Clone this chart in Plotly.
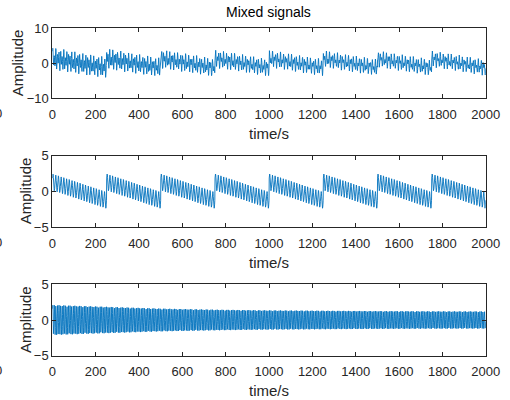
import numpy as np
import plotly.graph_objects as go

# ---- data ----
n_samples = 2000
saw_period = 250
saw_seg_start = [1.3, 1.3, 1.3, 1.3, 1.3, 1.3, 1.3, 1.3]       # sawtooth level at start of each period
saw_seg_end = [-1.25, -1.25, -1.25, -1.25, -1.25, -1.25, -1.25, -1.25]  # level at end of each period
saw_ripple_amp = 1.15            # ripple riding on the sawtooth
saw_ripple_period = 12.5
tone_env_t = [0, 250, 500, 750, 1000, 1250, 1500, 1750, 2000]
tone_env_amp = [2.1, 1.85, 1.6, 1.45, 1.35, 1.3, 1.25, 1.22, 1.2]
tone_period = 7.3

x_ticks = [0, 200, 400, 600, 800, 1000, 1200, 1400, 1600, 1800, 2000]
y_ticks_top = [-10, 0, 10]
y_ticks_low = [-5, 0, 5]
panel_titles_y = ["Amplitude", "Amplitude", "Amplitude"]

# ---- build signals ----
t = np.arange(1, n_samples + 1)
seg = np.minimum((t - 1) // saw_period, len(saw_seg_start) - 1)
frac = ((t - 1) % saw_period) / (saw_period - 1)
saw = np.array(saw_seg_start)[seg] + frac * (np.array(saw_seg_end)[seg] - np.array(saw_seg_start)[seg])
sig2 = saw + saw_ripple_amp * np.sin(2 * np.pi * t / saw_ripple_period)
env = np.interp(t, tone_env_t, tone_env_amp)
sig3 = env * np.sin(2 * np.pi * t / tone_period)
sig1 = sig2 + sig3

W, H = 510, 400
BLUE = "#0072BD"
AX = "#262626"
FONT = "Liberation Sans, Arial, sans-serif"

xl, xr = 52.3 / W, 485.7 / W
panels = [  # (top px, bottom px)
    (28.3, 98.3),
    (155.7, 227.0),
    (284.3, 355.7),
]

fig = go.Figure()
sigs = [sig1, sig2, sig3]
for i, s in enumerate(sigs):
    suffix = "" if i == 0 else str(i + 1)
    fig.add_trace(go.Scatter(x=t, y=s, mode="lines",
                             line=dict(color=BLUE, width=0.9),
                             xaxis="x" + suffix, yaxis="y" + suffix,
                             showlegend=False, hoverinfo="skip"))

layout = dict(width=W, height=H, margin=dict(l=0, r=0, t=0, b=0, autoexpand=False),
              paper_bgcolor="white", plot_bgcolor="white",
              font=dict(family=FONT, size=13, color=AX), showlegend=False)
annotations = []
for i, (top, bot) in enumerate(panels):
    suffix = "" if i == 0 else str(i + 1)
    yd = [1 - bot / H, 1 - top / H]
    layout["xaxis" + suffix] = dict(domain=[xl, xr], range=[0, 2000], tickvals=x_ticks,
                                    ticks="inside", ticklen=4, tickcolor=AX, showline=True,
                                    linecolor=AX, linewidth=1, mirror="ticks", showgrid=False,
                                    zeroline=False, anchor="y" + suffix, automargin=False,
                                    ticklabelstandoff=4,
                                    tickfont=dict(size=13, color=AX))
    yt = y_ticks_top if i == 0 else y_ticks_low
    layout["yaxis" + suffix] = dict(domain=yd, range=[yt[0], yt[-1]], tickvals=yt,
                                    ticks="inside", ticklen=4, tickcolor=AX, showline=True,
                                    linecolor=AX, linewidth=1, mirror="ticks", showgrid=False,
                                    zeroline=False, anchor="x" + suffix, automargin=False,
                                    tickfont=dict(size=13, color=AX))
    # x-axis title
    annotations.append(dict(text="time/s", x=(xl + xr) / 2, y=1 - (bot + 35) / H,
                            xref="paper", yref="paper", showarrow=False,
                            font=dict(size=15, color=AX), xanchor="center", yanchor="middle"))
    # y-axis title
    ylx = 17 if i == 0 else 25
    annotations.append(dict(text=panel_titles_y[i], x=ylx / W, y=(yd[0] + yd[1]) / 2,
                            xref="paper", yref="paper", showarrow=False, textangle=-90,
                            font=dict(size=15, color=AX), xanchor="center", yanchor="middle"))
    # stray clipped "0" at left edge
    annotations.append(dict(text="0", x=-2 / W, y=1 - (bot + 15) / H,
                            xref="paper", yref="paper", showarrow=False,
                            font=dict(size=13, color=AX), xanchor="center", yanchor="middle"))

annotations.append(dict(text="Mixed signals", x=(xl + xr) / 2, y=1 - 12 / H,
                        xref="paper", yref="paper", showarrow=False,
                        font=dict(size=14, color="black"), xanchor="center", yanchor="middle"))
layout["annotations"] = annotations
fig.update_layout(**layout)
fig.write_html("out.html", config={"displayModeBar": False},
               post_script="document.body.style.margin='0';document.body.style.overflow='hidden';")
